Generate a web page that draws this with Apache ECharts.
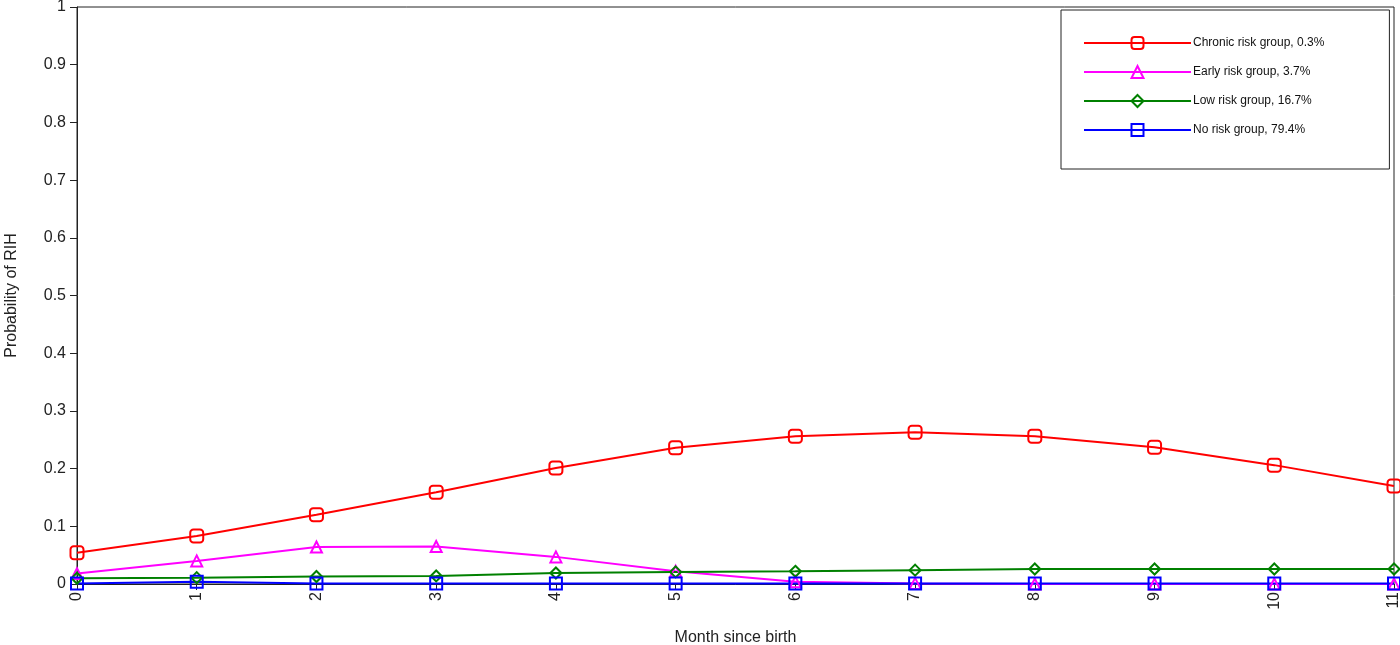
<!DOCTYPE html>
<html>
<head>
<meta charset="utf-8">
<script src="https://cdn.jsdelivr.net/npm/echarts@6/dist/echarts.min.js"></script>
<style>
  html, body { margin: 0; padding: 0; background: #fff; }
  #chart { width: 1400px; height: 645px; }
</style>
</head>
<body>
<div id="chart"></div>
<script>
// months on the x axis
const months = ['0', '1', '2', '3', '4', '5', '6', '7', '8', '9', '10', '11'];
const chronic = [0.054, 0.083, 0.120, 0.159, 0.201, 0.236, 0.256, 0.263, 0.256, 0.237, 0.206, 0.170];
const early   = [0.018, 0.040, 0.064, 0.065, 0.047, 0.022, 0.004, 0.001, 0.000, 0.000, 0.000, 0.000];
const low     = [0.010, 0.011, 0.013, 0.014, 0.019, 0.021, 0.022, 0.024, 0.026, 0.026, 0.026, 0.026];
const norisk  = [0.001, 0.004, 0.001, 0.001, 0.001, 0.001, 0.001, 0.001, 0.001, 0.001, 0.001, 0.001];

const names = ['Chronic risk group, 0.3%', 'Early risk group, 3.7%', 'Low risk group, 16.7%', 'No risk group, 79.4%'];

const chart = echarts.init(document.getElementById('chart'));

function mkSeries(name, data, color, symbol, size) {
  return {
    name: name,
    type: 'line',
    data: data,
    symbol: symbol,
    symbolSize: size,
    showAllSymbol: true,
    clip: false,
    lineStyle: { color: color, width: 2 },
    itemStyle: { color: 'rgba(255,255,255,0)', borderColor: color, borderWidth: 2 },
    emphasis: { disabled: true }
  };
}

const option = {
  animation: false,
  backgroundColor: '#fff',
  textStyle: { fontFamily: 'Liberation Sans, Arial, sans-serif' },
  grid: {
    left: 77, top: 7, right: 6, bottom: 61,
    outerBoundsMode: 'none',
    containLabel: false,
    show: true, borderColor: '#222', borderWidth: 1
  },
  legend: {
    orient: 'vertical',
    left: 1061,
    top: 10,
    padding: [26, 65, 32, 22],
    itemWidth: 107,
    itemHeight: 15,
    itemGap: 15,
    borderColor: '#222',
    borderWidth: 1,
    backgroundColor: '#fff',
    textStyle: { fontSize: 12, color: '#111', padding: [0, 0, 0, -3] },
    data: names
  },
  xAxis: {
    type: 'category',
    data: months,
    boundaryGap: false,
    name: 'Month since birth',
    nameLocation: 'middle',
    nameGap: 46,
    nameTextStyle: { fontSize: 16, color: '#222' },
    axisLine: { lineStyle: { color: '#222', width: 1 } },
    axisTick: { length: 6, lineStyle: { color: '#222' } },
    axisLabel: { rotate: 90, fontSize: 16, color: '#222', margin: 8 },
    splitLine: { show: false }
  },
  yAxis: {
    type: 'value',
    min: 0,
    max: 1,
    interval: 0.1,
    name: 'Probability of RIH',
    nameLocation: 'middle',
    nameGap: 57,
    nameTextStyle: { fontSize: 16, color: '#222' },
    axisLine: { show: true, lineStyle: { color: '#222', width: 1 } },
    axisTick: { show: true, length: 7, lineStyle: { color: '#222' } },
    axisLabel: { fontSize: 16, color: '#222', margin: 11,
      formatter: function (v) { return String(Math.round(v * 10) / 10); } },
    splitLine: { show: false }
  },
  series: [
    mkSeries(names[0], chronic, '#ff0000', 'roundRect', 13),
    mkSeries(names[1], early, '#ff00ff', 'triangle', 11),
    mkSeries(names[2], low, '#008000', 'diamond', 11),
    mkSeries(names[3], norisk, '#0000ff', 'rect', 12)
  ]
};

chart.setOption(option);
</script>
</body>
</html>
